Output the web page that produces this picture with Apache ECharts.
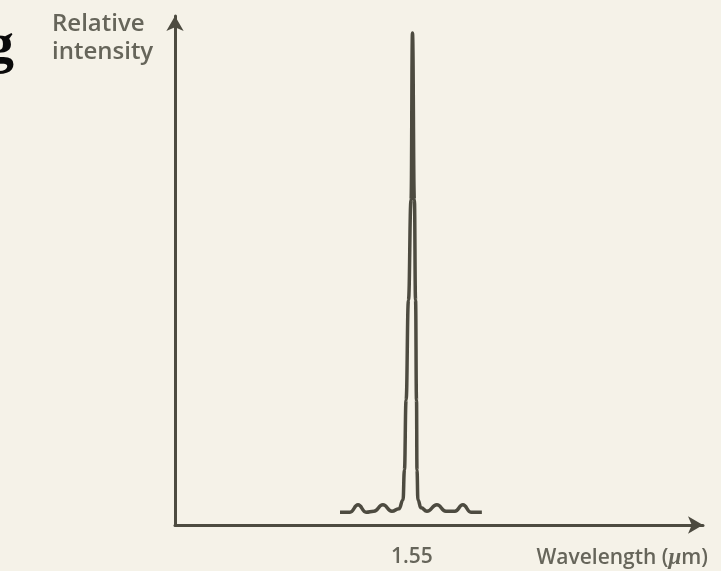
<!DOCTYPE html>
<html>
<head>
<meta charset="utf-8">
<script src="https://cdn.jsdelivr.net/npm/echarts@6/dist/echarts.min.js"></script>
<style>
html,body{margin:0;padding:0;background:#f5f2e8;}
#c{width:721px;height:571px;}
</style>
</head>
<body>
<div id="c"></div>
<script>
// Wavelength (um) and relative intensity
const wavelength = [1.5197, 1.5239, 1.5273, 1.5307, 1.5340, 1.5378, 1.5416, 1.5446, 1.5463, 1.5469, 1.5476, 1.5486, 1.5497, 1.5503, 1.5511, 1.5516, 1.5520, 1.5522, 1.5526, 1.5539, 1.5564, 1.5606, 1.5644, 1.5682, 1.5716, 1.5750, 1.5796];
const intensity  = [0.026, 0.026, 0.041, 0.026, 0.028, 0.041, 0.028, 0.033, 0.051, 0.112, 0.254, 0.457, 0.661, 1.000, 0.661, 0.457, 0.254, 0.112, 0.051, 0.035, 0.028, 0.041, 0.028, 0.028, 0.041, 0.026, 0.026];
const xTickLabels = [1.55];
const xName = 'Wavelength ({mu|μ}m)';
const yName = 'Relative\nintensity';

const ink = '#4d4b40';
const textCol = '#66655a';
const chart = echarts.init(document.getElementById('c'));
chart.setOption({
  backgroundColor: '#f5f2e8',
  animation: false,
  grid: {left: 175, right: 18, top: 16, bottom: 46},
  xAxis: {
    type: 'value', min: 1.45, max: 1.673,
    splitLine: {show: false},
    axisTick: {show: false},
    axisLine: {show: true, symbol: ['none', 'arrow'], symbolSize: [13, 15], lineStyle: {color: ink, width: 3}},
    axisLabel: {customValues: xTickLabels, formatter: v => v.toFixed(2), margin: 22, color: textCol, fontSize: 21, fontFamily: 'Open Sans', fontWeight: 600},
    name: xName, nameLocation: 'end', nameGap: 5,
    nameTextStyle: {align: 'right', verticalAlign: 'top', padding: [22, 0, 0, 0], color: textCol, fontSize: 21, fontFamily: 'Open Sans', fontWeight: 600,
      rich: {mu: {fontStyle: 'italic', fontFamily: 'Liberation Serif', fontSize: 23, color: textCol}}}
  },
  yAxis: {
    type: 'value', min: 0, max: 1.0346,
    splitLine: {show: false},
    axisTick: {show: false},
    axisLabel: {show: false},
    axisLine: {show: true, symbol: ['none', 'arrow'], symbolSize: [13, 15], lineStyle: {color: ink, width: 3}}
  },
  graphic: [
    {type: 'text', left: 52, top: 10, style: {text: yName, fill: textCol, font: '600 24px "Open Sans"', lineHeight: 28}},
    {type: 'text', x: -15, y: 18, style: {text: 'g', fill: '#0a0a0a', font: 'bold 58px "Liberation Serif"'}}
  ],
  series: [{
    type: 'line',
    data: wavelength.map((w, i) => [w, intensity[i]]),
    showSymbol: false,
    smooth: 0.5,
    smoothMonotone: 'x',
    lineStyle: {color: ink, width: 3.5}
  }]
});
</script>
</body>
</html>
